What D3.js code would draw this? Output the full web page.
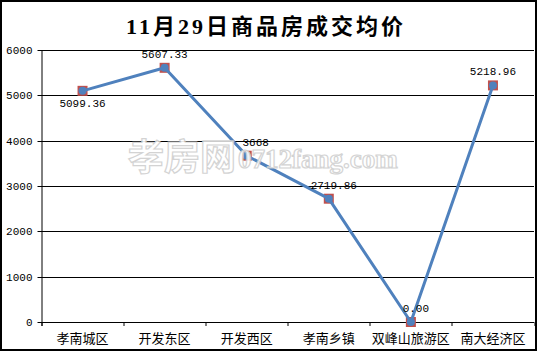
<!DOCTYPE html>
<html>
<head>
<meta charset="utf-8">
<script src="https://cdn.jsdelivr.net/npm/d3@7"></script>
<style>
  body { margin:0; background:#fff; }
  .num { font-family:"Liberation Mono","DejaVu Sans Mono",monospace; font-size:11px; fill:#000; }
  .cat { font-family:"Noto Sans CJK SC",sans-serif; font-size:13px; fill:#000; }
</style>
</head>
<body>
<div id="canvas"></div>
<script>
// data
var titleText = '11月29日商品房成交均价';
var districts = ['孝南城区','开发东区','开发西区','孝南乡镇','双峰山旅游区','南大经济区'];
var prices = [5099.36, 5607.33, 3668, 2719.86, 0, 5218.96];
var priceLabels = ['5099.36','5607.33','3668','2719.86','0.00','5218.96'];
var yTicks = [0,1000,2000,3000,4000,5000,6000];

var W = 538, H = 353;
var m = {t:50, r:4, b:31, l:41.5};
var w = W - m.l - m.r, h = H - m.t - m.b;

var svg = d3.select('#canvas').append('svg')
    .attr('width', W).attr('height', H);

// outer frame
svg.append('rect')
    .attr('x',1).attr('y',1).attr('width',W-3).attr('height',H-4)
    .attr('fill','#fff').attr('stroke','#000').attr('stroke-width',2);

svg.append('text')
    .attr('x',266).attr('y',34)
    .attr('text-anchor','middle')
    .style('font-family','"Liberation Serif","Noto Sans CJK SC",serif')
    .style('font-size','22px').style('font-weight','bold')
    .style('letter-spacing','3px')
    .text(titleText);

var plot = svg.append('g').attr('transform','translate('+m.l+','+m.t+')');

var x = d3.scaleBand().domain(districts).range([0,w]);
var y = d3.scaleLinear().domain([0,6000]).range([h,0]);

// watermark
var wm = svg.append('g').attr('opacity',0.9);
wm.append('text').attr('x',128).attr('y',170)
    .style('font-family','"Noto Sans CJK SC",sans-serif').style('font-size','36px').style('font-weight','bold')
    .attr('fill','#fff').attr('stroke','#cfcfcf').attr('stroke-width',1.2)
    .text('孝房网');
wm.append('text').attr('x',238).attr('y',168)
    .style('font-family','"Liberation Serif",serif').style('font-size','27px').style('font-weight','bold')
    .attr('fill','#fff').attr('stroke','#cfcfcf').attr('stroke-width',1.2)
    .text('0712fang.com');

// grid + y axis
plot.selectAll('.grid').data(yTicks).enter().append('line')
    .attr('class','grid')
    .attr('x1',-4).attr('x2',w)
    .attr('y1',function(d){return Math.round(y(d))+0.5})
    .attr('y2',function(d){return Math.round(y(d))+0.5})
    .attr('stroke','#000').attr('stroke-width',1);

plot.append('line')
    .attr('x1',0.5).attr('x2',0.5).attr('y1',0).attr('y2',h+4)
    .attr('stroke','#000');

plot.selectAll('.ylab').data(yTicks).enter().append('text')
    .attr('class','num')
    .attr('x',-9).attr('y',function(d){return y(d)+4})
    .attr('text-anchor','end')
    .text(function(d){return d});

// x ticks
var bounds = districts.map(function(d){return x(d)}).concat([w]);
plot.selectAll('.xtick').data(bounds).enter().append('line')
    .attr('x1',function(d){return Math.round(d)+0.5})
    .attr('x2',function(d){return Math.round(d)+0.5})
    .attr('y1',h).attr('y2',h+4)
    .attr('stroke','#000');

plot.selectAll('.xlab').data(districts).enter().append('text')
    .attr('class','cat')
    .attr('x',function(d){return x(d)+x.bandwidth()/2})
    .attr('y',h+21)
    .attr('text-anchor','middle')
    .text(function(d){return d});

// series
var cx = function(d,i){return x(districts[i])+x.bandwidth()/2};
var pts = prices.map(function(v,i){return [cx(v,i), y(v)]});

plot.selectAll('.mk').data(prices).enter().append('rect')
    .attr('x',function(d,i){return cx(d,i)-5})
    .attr('y',function(d){return y(d)-5})
    .attr('width',10).attr('height',10)
    .attr('fill','#C0504D');

plot.append('path')
    .attr('d', d3.line()(pts))
    .attr('fill','none').attr('stroke','#4F81BD').attr('stroke-width',3)
    .attr('stroke-linejoin','round');

plot.selectAll('.dot').data(prices).enter().append('circle')
    .attr('cx',function(d,i){return cx(d,i)})
    .attr('cy',function(d){return y(d)})
    .attr('r',4)
    .attr('fill','#4F81BD');

// data labels
plot.selectAll('.dl').data(prices).enter().append('text')
    .attr('class','num')
    .attr('text-anchor','middle')
    .attr('x',function(d,i){return cx(d,i) + (i==0||i==1||i==5 ? 0 : (i==2 ? 9 : 5))})
    .attr('y',function(d,i){return i==0 ? y(d)+16 : y(d)-10})
    .text(function(d,i){return priceLabels[i]});
</script>
</body>
</html>
